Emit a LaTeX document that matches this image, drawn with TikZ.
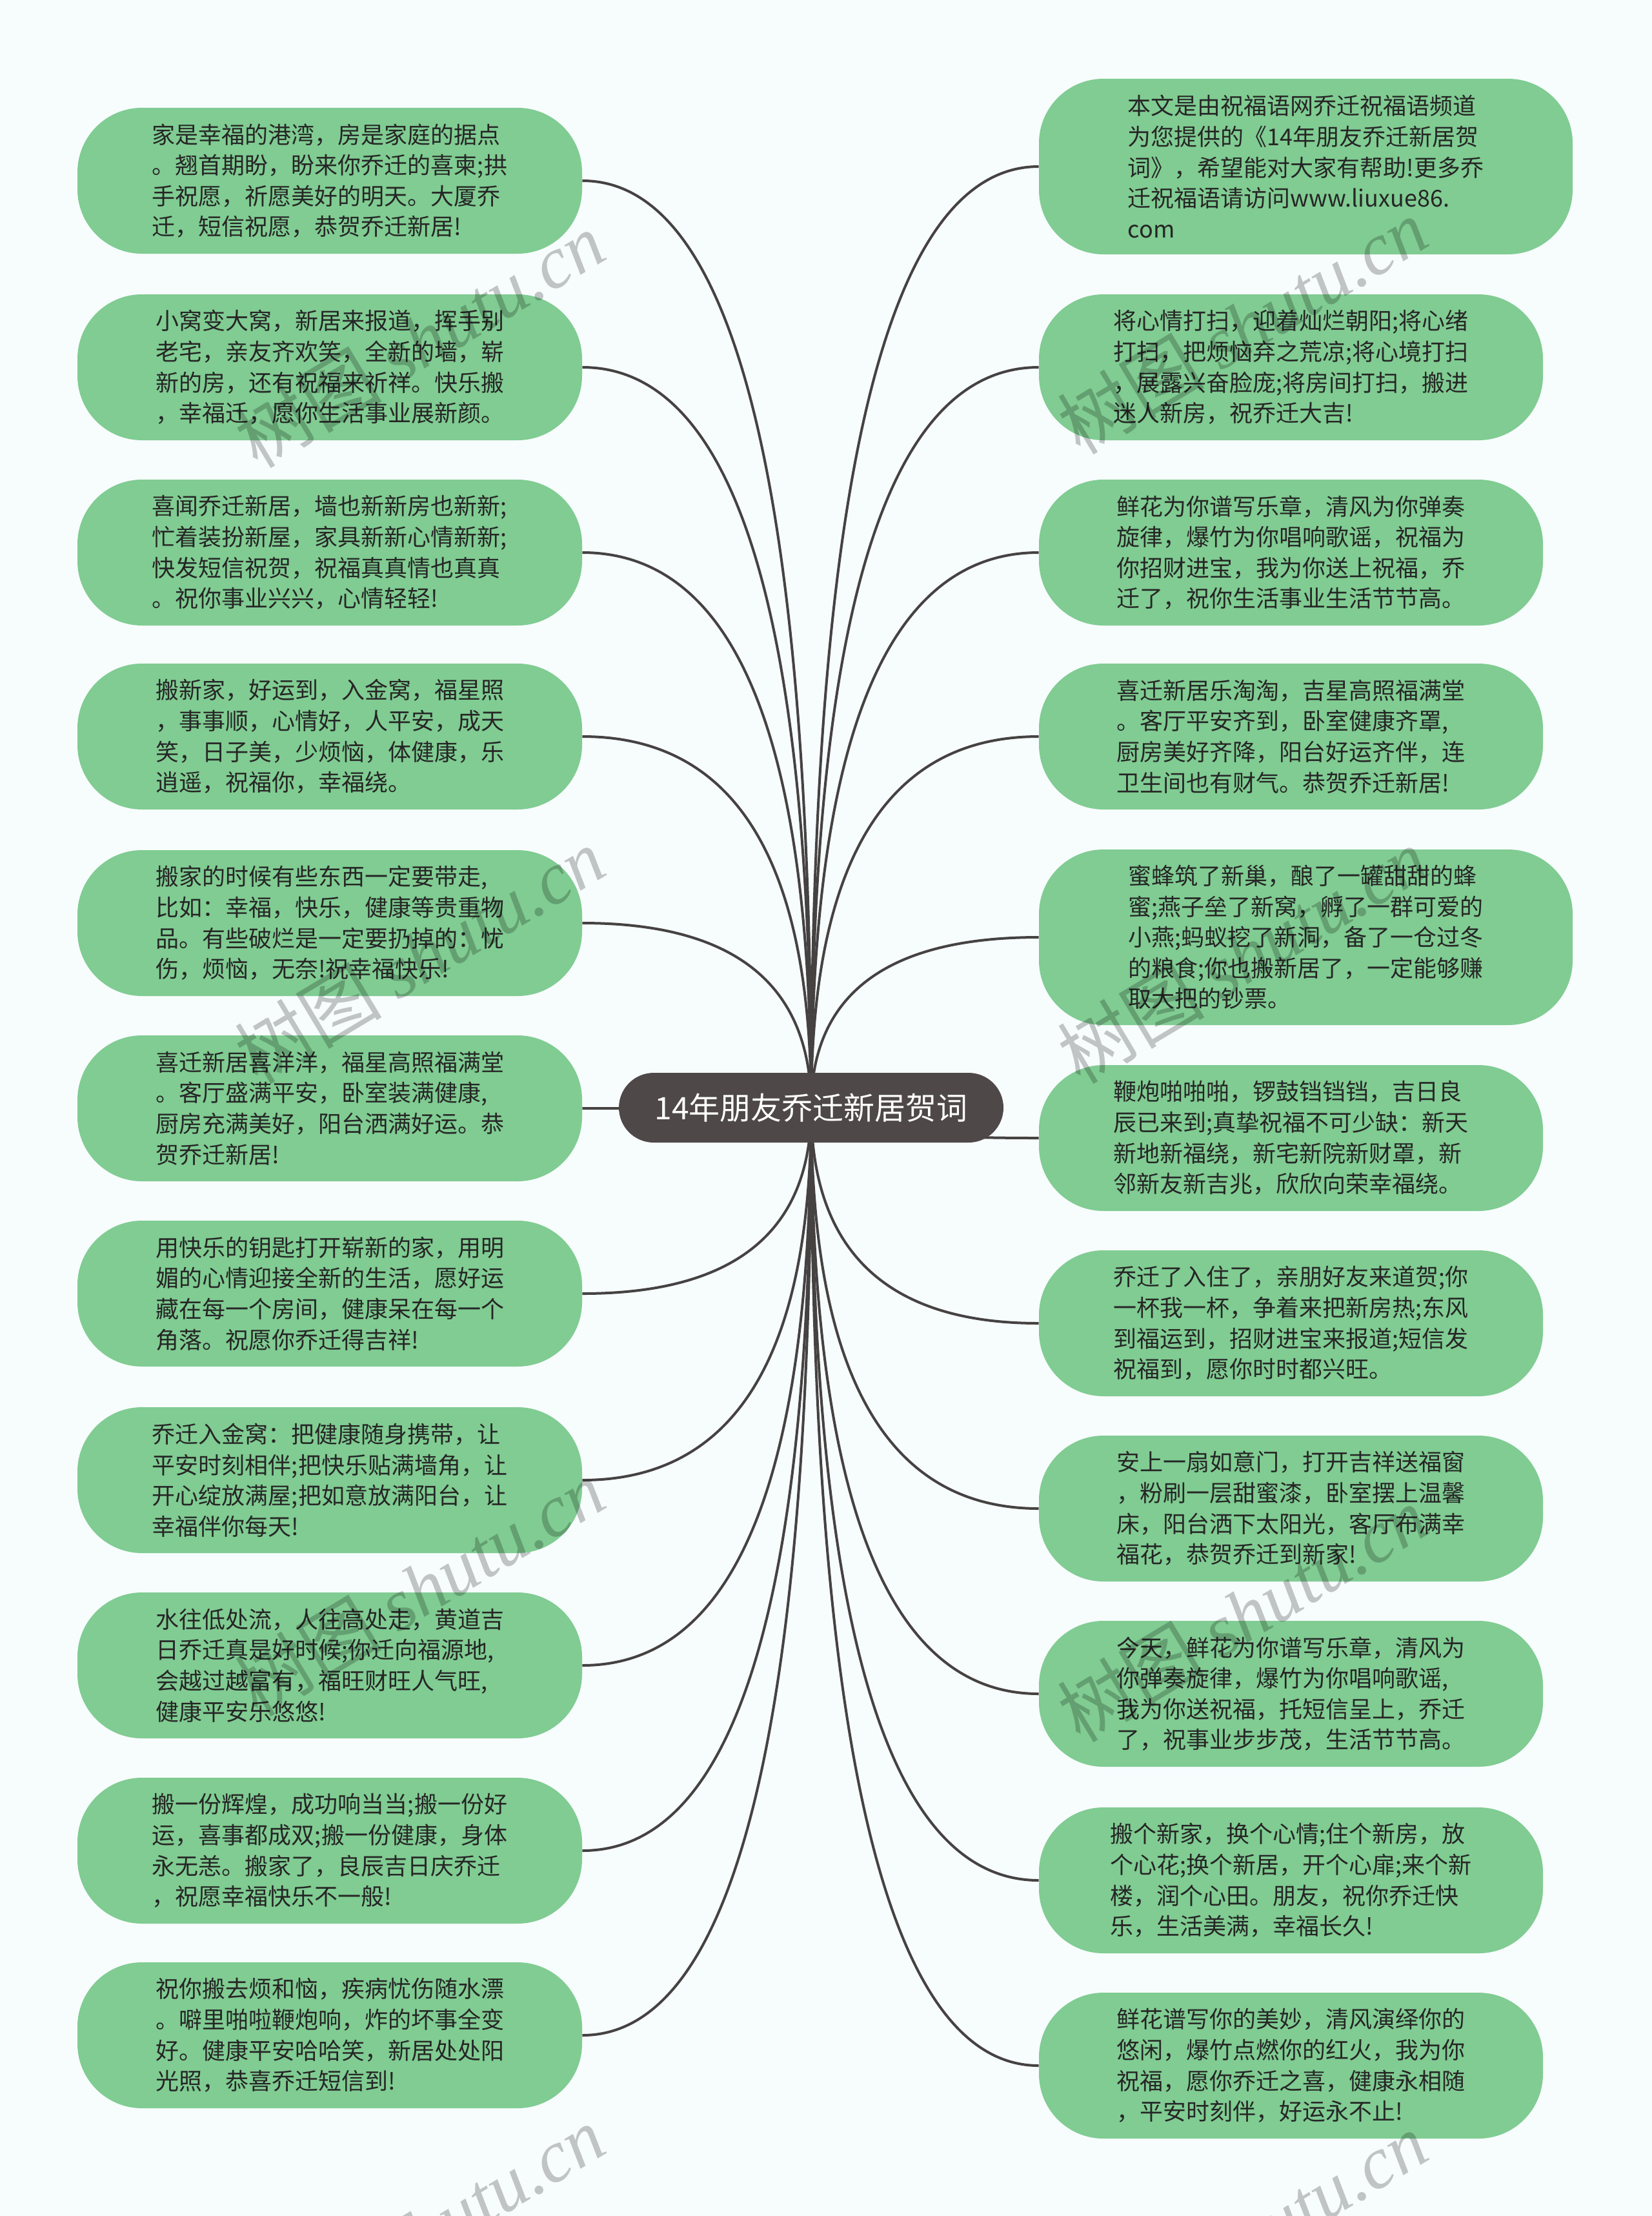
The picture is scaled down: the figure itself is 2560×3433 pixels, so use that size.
\documentclass[tikz,border=0pt]{standalone}
\usepackage{fontspec}
\newfontfamily\cjk{Noto Sans CJK SC}
\newfontfamily\wmlat{Liberation Serif}
\usetikzlibrary{calc}
\definecolor{bg}{RGB}{247,252,253}
\definecolor{leaf}{RGB}{128,204,146}
\definecolor{rootc}{RGB}{78,72,72}
\definecolor{edge}{RGB}{70,66,66}
\definecolor{txt}{RGB}{38,38,38}
\pgfdeclarelayer{bglayer}
\pgfdeclarelayer{edges}
\pgfsetlayers{bglayer,edges,main}
\begin{document}
\begin{tikzpicture}[x=0.5pt,y=-0.5pt,
 leafbox/.style={fill=leaf, rounded corners=50pt, inner sep=0pt, align=left, text=txt,
   font=\cjk\fontsize{18pt}{23.8pt}\selectfont, minimum height=113pt},
 lw/.style={leafbox, minimum width=391pt},
 rw/.style={leafbox, minimum width=390.5pt},
 rwide/.style={leafbox, minimum width=413.5pt, minimum height=136pt},
 rootbox/.style={fill=rootc, text=white, rounded corners=27pt, inner sep=0pt,
   minimum width=298pt, minimum height=54pt, font=\cjk\fontsize{24pt}{28pt}\selectfont},
 link/.style={draw=edge, line width=2pt},
 wm/.style={rotate=31, text=black, opacity=0.22, inner sep=0pt,
   font=\cjk\fontsize{57pt}{57pt}\selectfont}]
\begin{pgfonlayer}{bglayer}
\fill[bg] (0,0) rectangle (2560,3433);
\end{pgfonlayer}
\useasboundingbox (0,0) rectangle (2560,3433);

\node[rootbox] (root) at (1257,1716) {14年朋友乔迁新居贺词};

% left column
\node[lw] (L1) at (511,280) {家是幸福的港湾，房是家庭的据点\\。翘首期盼，盼来你乔迁的喜柬;拱\\手祝愿，祈愿美好的明天。大厦乔\\迁，短信祝愿，恭贺乔迁新居!};
\node[lw] (L2) at (511,569) {小窝变大窝，新居来报道，挥手别\\老宅，亲友齐欢笑，全新的墙，崭\\新的房，还有祝福来祈祥。快乐搬\\，幸福迁，愿你生活事业展新颜。};
\node[lw] (L3) at (511,856) {喜闻乔迁新居，墙也新新房也新新;\\忙着装扮新屋，家具新新心情新新;\\快发短信祝贺，祝福真真情也真真\\。祝你事业兴兴，心情轻轻!};
\node[lw] (L4) at (511,1141) {搬新家，好运到，入金窝，福星照\\，事事顺，心情好，人平安，成天\\笑，日子美，少烦恼，体健康，乐\\逍遥，祝福你，幸福绕。};
\node[lw] (L5) at (511,1430) {搬家的时候有些东西一定要带走,\\比如：幸福，快乐，健康等贵重物\\品。有些破烂是一定要扔掉的：忧\\伤，烦恼，无奈!祝幸福快乐!};
\node[lw] (L6) at (511,1717) {喜迁新居喜洋洋，福星高照福满堂\\。客厅盛满平安，卧室装满健康,\\厨房充满美好，阳台洒满好运。恭\\贺乔迁新居!};
\node[lw] (L7) at (511,2004) {用快乐的钥匙打开崭新的家，用明\\媚的心情迎接全新的生活，愿好运\\藏在每一个房间，健康呆在每一个\\角落。祝愿你乔迁得吉祥!};
\node[lw] (L8) at (511,2293) {乔迁入金窝：把健康随身携带，让\\平安时刻相伴;把快乐贴满墙角，让\\开心绽放满屋;把如意放满阳台，让\\幸福伴你每天!};
\node[lw] (L9) at (511,2580) {水往低处流，人往高处走，黄道吉\\日乔迁真是好时候;你迁向福源地,\\会越过越富有，福旺财旺人气旺,\\健康平安乐悠悠!};
\node[lw] (L10) at (511,2867) {搬一份辉煌，成功响当当;搬一份好\\运，喜事都成双;搬一份健康，身体\\永无恙。搬家了，良辰吉日庆乔迁\\，祝愿幸福快乐不一般!};
\node[lw] (L11) at (511,3153) {祝你搬去烦和恼，疾病忧伤随水漂\\。噼里啪啦鞭炮响，炸的坏事全变\\好。健康平安哈哈笑，新居处处阳\\光照，恭喜乔迁短信到!};

% right column
\node[rwide] (R1) at (2023.5,258) {本文是由祝福语网乔迁祝福语频道\\为您提供的《14年朋友乔迁新居贺\\词》，希望能对大家有帮助!更多乔\\迁祝福语请访问www.liuxue86.\\com};
\node[rw] (R2) at (2000.5,569) {将心情打扫，迎着灿烂朝阳;将心绪\\打扫，把烦恼弃之荒凉;将心境打扫\\，展露兴奋脸庞;将房间打扫，搬进\\迷人新房，祝乔迁大吉!};
\node[rw] (R3) at (2000.5,856) {鲜花为你谱写乐章，清风为你弹奏\\旋律，爆竹为你唱响歌谣，祝福为\\你招财进宝，我为你送上祝福，乔\\迁了，祝你生活事业生活节节高。};
\node[rw] (R4) at (2000.5,1141) {喜迁新居乐淘淘，吉星高照福满堂\\。客厅平安齐到，卧室健康齐罩,\\厨房美好齐降，阳台好运齐伴，连\\卫生间也有财气。恭贺乔迁新居!};
\node[rwide] (R5) at (2023.5,1452) {蜜蜂筑了新巢，酿了一罐甜甜的蜂\\蜜;燕子垒了新窝，孵了一群可爱的\\小燕;蚂蚁挖了新洞，备了一仓过冬\\的粮食;你也搬新居了，一定能够赚\\取大把的钞票。};
\node[rw] (R6) at (2000.5,1763) {鞭炮啪啪啪，锣鼓铛铛铛，吉日良\\辰已来到;真挚祝福不可少缺：新天\\新地新福绕，新宅新院新财罩，新\\邻新友新吉兆，欣欣向荣幸福绕。};
\node[rw] (R7) at (2000.5,2050) {乔迁了入住了，亲朋好友来道贺;你\\一杯我一杯，争着来把新房热;东风\\到福运到，招财进宝来报道;短信发\\祝福到，愿你时时都兴旺。};
\node[rw] (R8) at (2000.5,2337) {安上一扇如意门，打开吉祥送福窗\\，粉刷一层甜蜜漆，卧室摆上温馨\\床，阳台洒下太阳光，客厅布满幸\\福花，恭贺乔迁到新家!};
\node[rw] (R9) at (2000.5,2624) {今天，鲜花为你谱写乐章，清风为\\你弹奏旋律，爆竹为你唱响歌谣,\\我为你送祝福，托短信呈上，乔迁\\了，祝事业步步茂，生活节节高。};
\node[rw] (R10) at (2000.5,2913) {搬个新家，换个心情;住个新房，放\\个心花;换个新居，开个心扉;来个新\\楼，润个心田。朋友，祝你乔迁快\\乐，生活美满，幸福长久!};
\node[rw] (R11) at (2000.5,3200) {鲜花谱写你的美妙，清风演绎你的\\悠闲，爆竹点燃你的红火，我为你\\祝福，愿你乔迁之喜，健康永相随\\，平安时刻伴，好运永不止!};

\begin{pgfonlayer}{edges}
\foreach \n in {L1,L2,L3,L4,L5,L6,L7,L8,L9,L10,L11}{
  \draw[link] (root.center) .. controls ($(root.center)!0.6667!(root.center |- \n.east)$)
     and ($(\n.east)!0.6667!(root.center |- \n.east)$) .. (\n.east);
}
\foreach \n in {R1,R2,R3,R4,R5,R6,R7,R8,R9,R10,R11}{
  \draw[link] (root.center) .. controls ($(root.center)!0.6667!(root.center |- \n.west)$)
     and ($(\n.west)!0.6667!(root.center |- \n.west)$) .. (\n.west);
}
\end{pgfonlayer}

% watermarks
\node[wm] (w1) at (650,526) {树图 {\wmlat\itshape shutu.cn}};
\node[wm] (w2) at (1925,505) {树图 {\wmlat\itshape shutu.cn}};
\node[wm] (w3) at (650,1480) {树图 {\wmlat\itshape shutu.cn}};
\node[wm] (w4) at (1925,1480) {树图 {\wmlat\itshape shutu.cn}};
\node[wm] (w5) at (650,2460) {树图 {\wmlat\itshape shutu.cn}};
\node[wm] (w6) at (1925,2500) {树图 {\wmlat\itshape shutu.cn}};
\node[wm] (w7) at (650,3460) {树图 {\wmlat\itshape shutu.cn}};
\node[wm] (w8) at (1925,3470) {树图 {\wmlat\itshape shutu.cn}};
\end{tikzpicture}
\end{document}
